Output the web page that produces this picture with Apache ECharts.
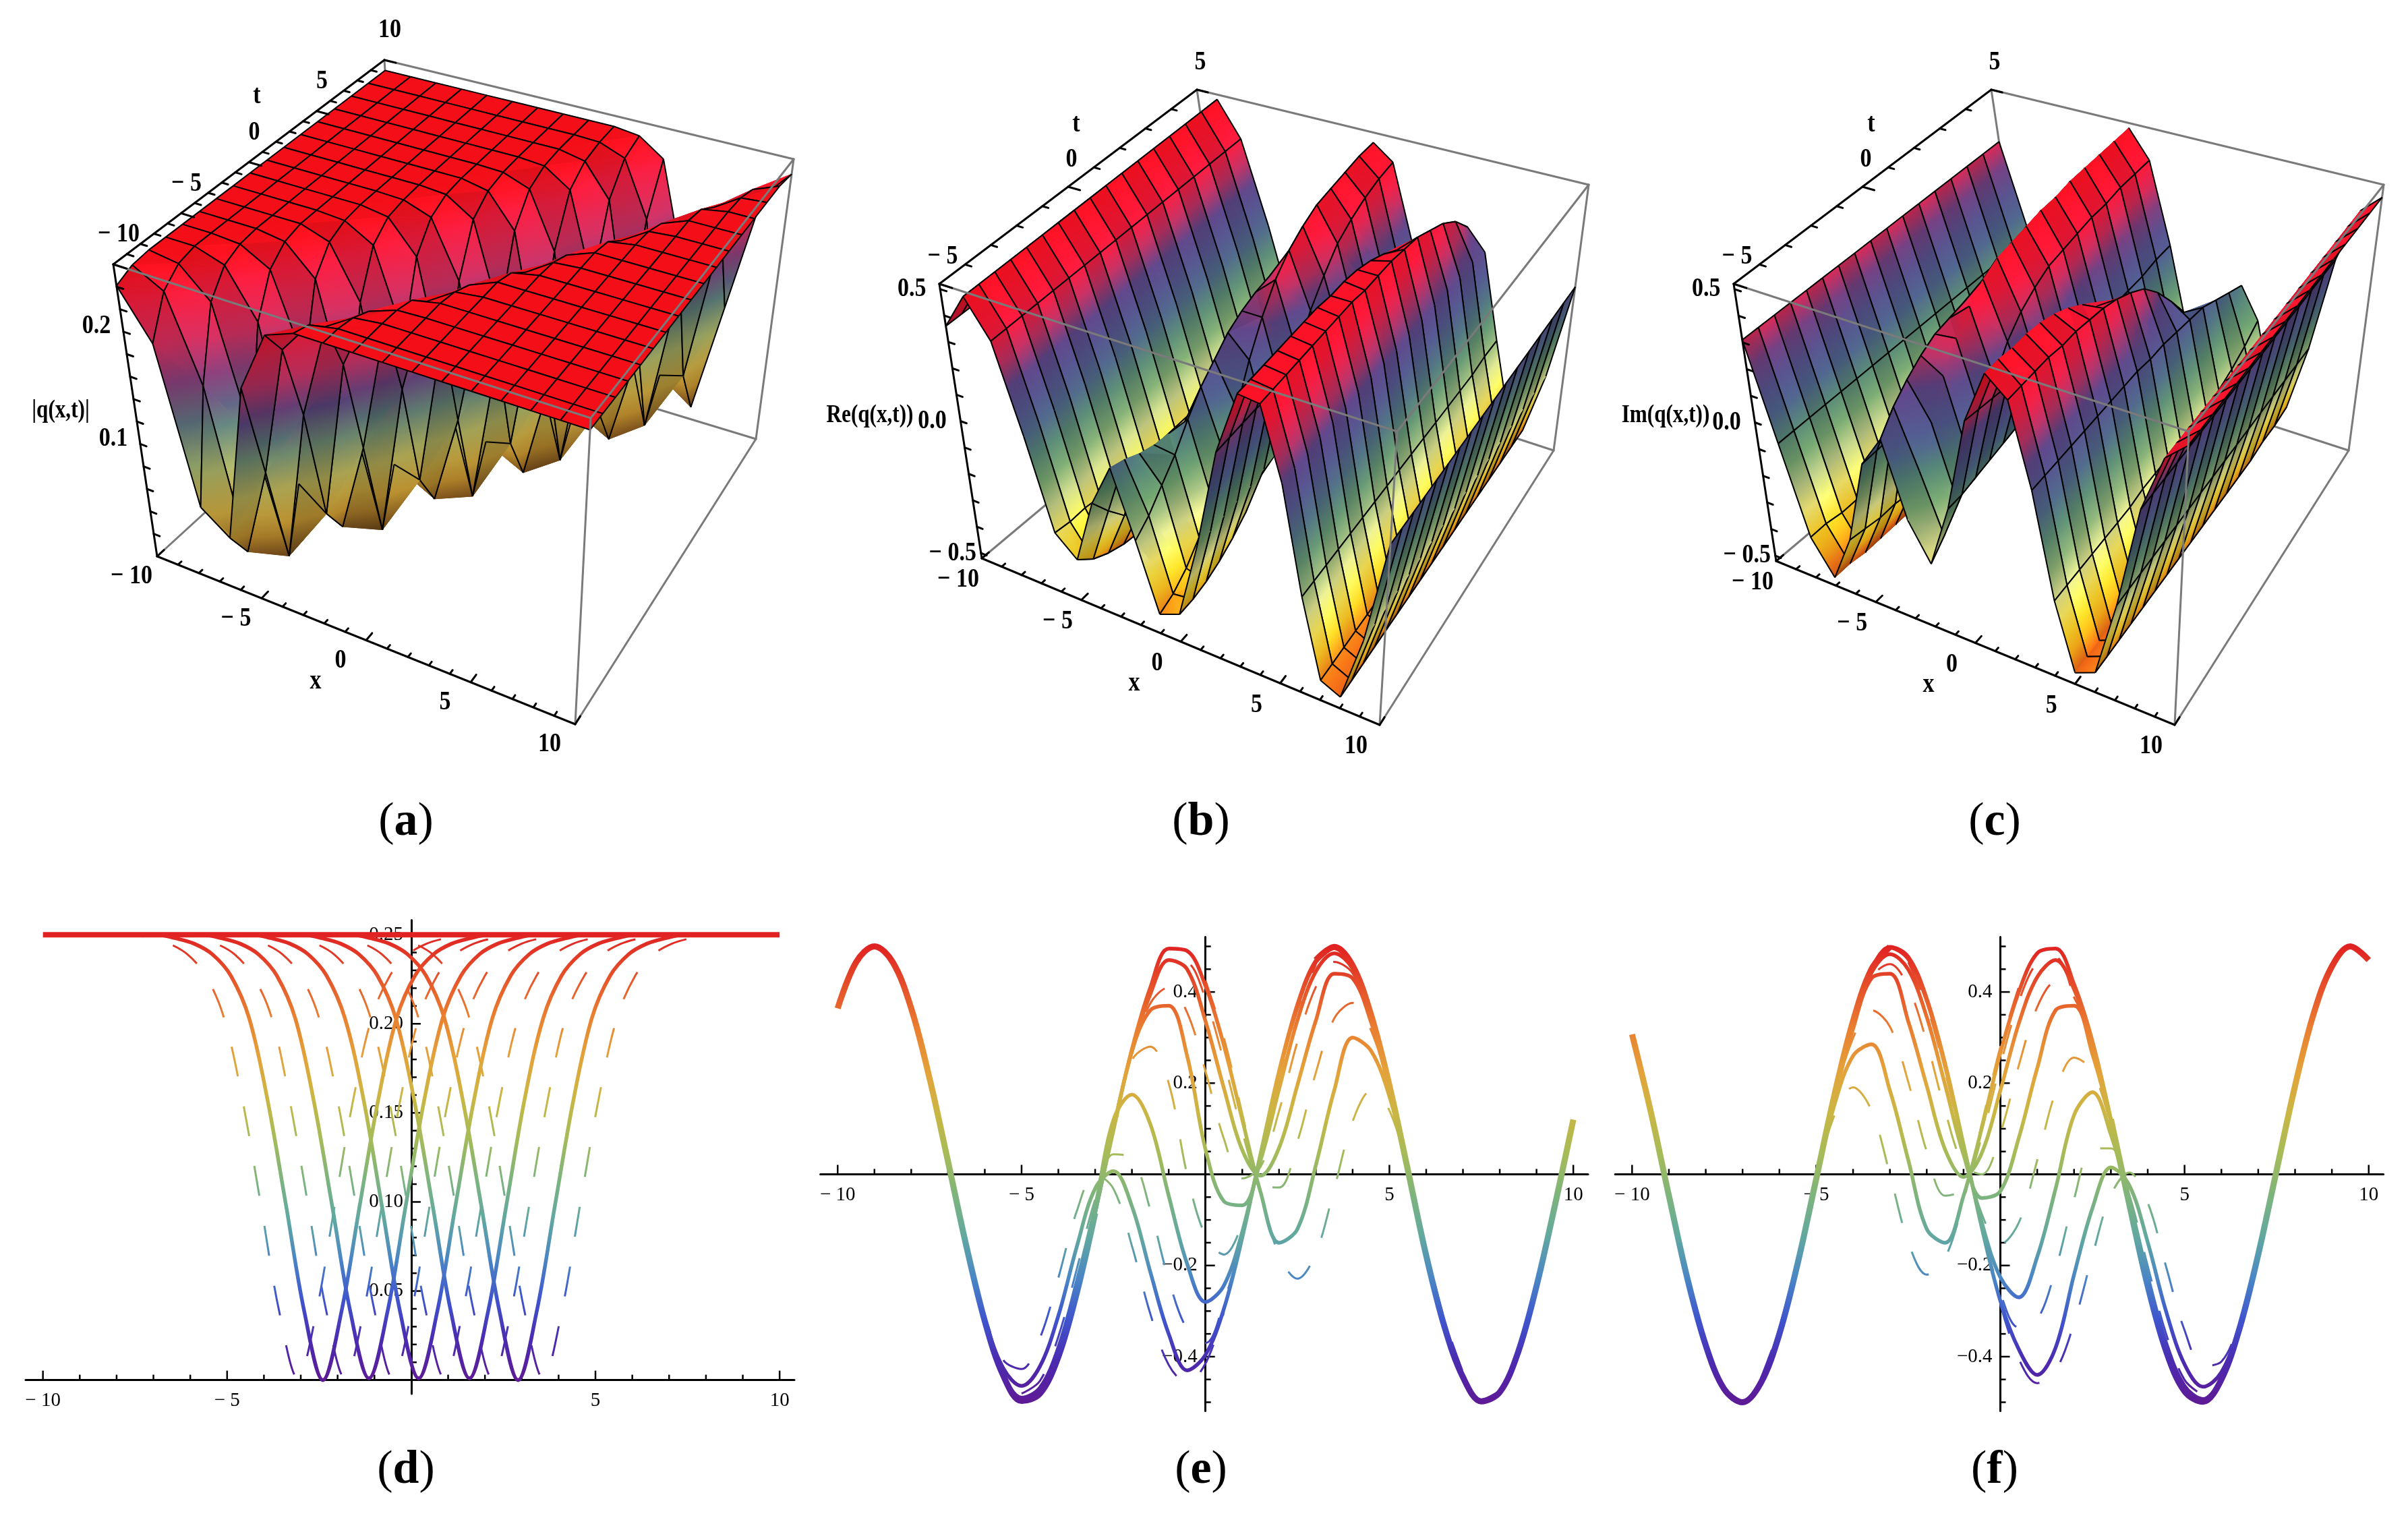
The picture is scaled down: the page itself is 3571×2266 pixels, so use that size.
<!DOCTYPE html>
<html>
<head>
<meta charset="utf-8">
<style>html,body{margin:0;background:#fff}#main{width:3571px;height:2266px}</style>
<script src="https://cdn.jsdelivr.net/npm/echarts@6/dist/echarts.min.js"></script>
</head>
<body>
<div id="main"></div>
<script>
var aX = [-10,-8.75,-7.5,-6.25,-5,-3.75,-2.5,-1.25,0,1.25,2.5,3.75,5,6.25,7.5,8.75,10];
var aT = [-10,-8.75,-7.5,-6.25,-5,-3.75,-2.5,-1.25,0,1.25,2.5,3.75,5,6.25,7.5,8.75,10];
var aZ = [
[.241,.198,.062,.044,.185,.24,.25,.25,.25,.25,.25,.25,.25,.25,.25,.25,.25],
[.248,.233,.157,.019,.098,.215,.245,.25,.25,.25,.25,.25,.25,.25,.25,.25,.25],
[.25,.246,.22,.11,.011,.145,.231,.247,.25,.25,.25,.25,.25,.25,.25,.25,.25],
[.25,.25,.241,.198,.062,.044,.185,.24,.249,.25,.25,.25,.25,.25,.25,.25,.25],
[.25,.25,.248,.233,.157,.019,.098,.215,.245,.25,.25,.25,.25,.25,.25,.25,.25],
[.25,.25,.25,.246,.22,.11,.011,.145,.231,.247,.25,.25,.25,.25,.25,.25,.25],
[.25,.25,.25,.25,.241,.194,.056,.05,.189,.24,.25,.25,.25,.25,.25,.25,.25],
[.25,.25,.25,.25,.248,.233,.157,.019,.098,.215,.245,.25,.25,.25,.25,.25,.25],
[.25,.25,.25,.25,.25,.246,.217,.104,.015,.151,.232,.248,.25,.25,.25,.25,.25],
[.25,.25,.25,.25,.25,.249,.24,.189,.05,.056,.194,.241,.25,.25,.25,.25,.25],
[.25,.25,.25,.25,.25,.25,.248,.232,.151,.015,.104,.217,.246,.25,.25,.25,.25],
[.25,.25,.25,.25,.25,.25,.25,.245,.215,.098,.019,.157,.233,.248,.25,.25,.25],
[.25,.25,.25,.25,.25,.25,.25,.249,.24,.189,.05,.056,.194,.241,.25,.25,.25],
[.25,.25,.25,.25,.25,.25,.25,.25,.248,.232,.151,.015,.104,.217,.246,.25,.25],
[.25,.25,.25,.25,.25,.25,.25,.25,.25,.245,.215,.098,.019,.157,.233,.248,.25],
[.25,.25,.25,.25,.25,.25,.25,.25,.25,.249,.24,.189,.05,.056,.194,.241,.25],
[.25,.25,.25,.25,.25,.25,.25,.25,.25,.25,.247,.231,.145,.011,.11,.22,.246]
];
var bcX = [-10,-9,-8,-7,-6,-5,-4,-3,-2,-1,0,1,2,3,4,5,6,7,8,9,10];
var bcT = [-5,-4.375,-3.75,-3.125,-2.5,-1.875,-1.25,-.625,0,.625,1.25,1.875,2.5,3.125,3.75,4.375,5];
var bZ = [
[.36,.5,.36,.03,-.3,-.37,-.13,.03,-.21,-.45,-.42,-.14,.23,.47,.46,.2,-.18,-.45,-.48,-.25,.12],
[.36,.5,.36,.03,-.31,-.42,-.21,.01,-.17,-.43,-.42,-.14,.23,.47,.46,.2,-.18,-.45,-.48,-.25,.12],
[.36,.5,.36,.03,-.31,-.45,-.28,-.02,-.11,-.39,-.41,-.14,.23,.47,.46,.2,-.18,-.45,-.48,-.25,.12],
[.36,.5,.36,.03,-.32,-.47,-.32,-.04,-.05,-.33,-.39,-.14,.23,.47,.46,.2,-.18,-.45,-.48,-.25,.12],
[.36,.5,.36,.03,-.32,-.48,-.35,-.05,.03,-.24,-.36,-.14,.22,.47,.46,.2,-.18,-.45,-.48,-.25,.12],
[.36,.5,.36,.03,-.32,-.49,-.37,-.07,.1,-.13,-.32,-.13,.22,.47,.46,.2,-.18,-.45,-.48,-.25,.12],
[.36,.5,.36,.03,-.32,-.49,-.38,-.07,.15,-.01,-.25,-.12,.22,.47,.46,.2,-.18,-.45,-.48,-.25,.12],
[.36,.5,.36,.03,-.32,-.49,-.39,-.08,.2,.12,-.16,-.11,.21,.46,.46,.2,-.18,-.45,-.48,-.25,.12],
[.36,.5,.36,.03,-.32,-.5,-.39,-.08,.23,.23,-.06,-.09,.2,.46,.45,.2,-.18,-.45,-.48,-.25,.12],
[.36,.5,.36,.03,-.32,-.5,-.4,-.08,.25,.32,.06,-.07,.19,.45,.45,.19,-.18,-.45,-.48,-.25,.12],
[.36,.5,.36,.03,-.32,-.5,-.4,-.08,.26,.38,.17,-.03,.16,.43,.45,.19,-.18,-.45,-.48,-.25,.12],
[.36,.5,.36,.03,-.32,-.5,-.4,-.08,.27,.42,.25,0,.13,.4,.44,.19,-.18,-.45,-.48,-.25,.12],
[.36,.5,.36,.03,-.32,-.5,-.4,-.09,.27,.45,.32,.04,.08,.36,.43,.19,-.18,-.45,-.48,-.25,.12],
[.36,.5,.36,.03,-.32,-.5,-.4,-.09,.27,.46,.36,.07,.02,.3,.4,.19,-.18,-.45,-.48,-.25,.12],
[.36,.5,.36,.03,-.32,-.5,-.4,-.09,.27,.47,.39,.1,-.04,.2,.37,.18,-.18,-.44,-.48,-.25,.12],
[.36,.5,.36,.03,-.32,-.5,-.4,-.09,.28,.48,.41,.11,-.1,.09,.32,.18,-.17,-.44,-.48,-.25,.12],
[.36,.5,.36,.03,-.32,-.5,-.4,-.09,.28,.48,.42,.13,-.14,-.03,.24,.16,-.17,-.44,-.48,-.25,.12]
];
var cZ = [
[.31,-.05,-.37,-.49,-.32,-.01,.11,-.16,-.29,-.06,.29,.49,.42,.12,-.25,-.48,-.45,-.18,.19,.4,.47],
[.31,-.05,-.37,-.49,-.33,-.01,.18,-.03,-.24,-.06,.28,.49,.42,.12,-.25,-.48,-.45,-.18,.19,.4,.47],
[.31,-.05,-.38,-.5,-.34,-.01,.23,.1,-.16,-.05,.27,.48,.42,.12,-.25,-.48,-.45,-.18,.19,.4,.47],
[.31,-.05,-.38,-.5,-.34,-.01,.27,.22,-.06,-.04,.26,.48,.42,.12,-.25,-.48,-.45,-.18,.19,.4,.47],
[.31,-.05,-.38,-.5,-.35,-.01,.3,.31,.04,-.03,.24,.47,.41,.12,-.25,-.48,-.45,-.18,.19,.4,.47],
[.31,-.05,-.38,-.5,-.35,-.01,.31,.38,.13,-.02,.21,.45,.41,.12,-.25,-.48,-.45,-.18,.19,.4,.47],
[.31,-.05,-.38,-.5,-.35,-.01,.32,.43,.22,0,.17,.42,.4,.12,-.25,-.48,-.45,-.18,.19,.4,.47],
[.31,-.05,-.38,-.5,-.35,-.01,.33,.46,.28,.02,.11,.38,.39,.12,-.24,-.48,-.45,-.18,.19,.4,.47],
[.31,-.05,-.38,-.5,-.35,-.01,.33,.47,.32,.03,.04,.32,.37,.12,-.24,-.48,-.45,-.18,.19,.4,.47],
[.31,-.05,-.38,-.5,-.35,-.01,.34,.48,.35,.04,-.04,.23,.34,.11,-.24,-.48,-.45,-.18,.19,.4,.47],
[.31,-.05,-.38,-.5,-.35,-.01,.34,.49,.36,.05,-.11,.11,.3,.11,-.24,-.48,-.45,-.18,.19,.4,.47],
[.31,-.05,-.38,-.5,-.35,-.01,.34,.49,.37,.06,-.17,-.01,.23,.1,-.23,-.47,-.45,-.18,.19,.4,.47],
[.31,-.05,-.38,-.5,-.35,-.01,.34,.5,.38,.06,-.21,-.14,.14,.09,-.23,-.47,-.45,-.18,.19,.4,.47],
[.31,-.05,-.38,-.5,-.35,-.01,.34,.5,.38,.06,-.24,-.25,.04,.08,-.22,-.46,-.45,-.18,.19,.4,.47],
[.31,-.05,-.38,-.5,-.35,-.01,.34,.5,.39,.06,-.26,-.33,-.07,.05,-.2,-.45,-.44,-.18,.19,.4,.47],
[.31,-.05,-.38,-.5,-.35,-.01,.34,.5,.39,.07,-.27,-.39,-.18,.02,-.17,-.43,-.44,-.18,.19,.4,.47],
[.31,-.05,-.38,-.5,-.35,-.01,.34,.5,.39,.07,-.28,-.43,-.26,-.01,-.13,-.4,-.43,-.18,.19,.4,.47]
];

// ---- panel d: |q| sections, one well per t ----
var wellOffsets = [-5,-4.5,-4,-3.5,-3,-2.5,-2,-1.5,-1,-.5,0,.5,1,1.5,2,2.5,3,3.5,4,4.5,5];
var dTopX = [-10,-5,0,5,10];
var dTopY = [.25,.25,.25,.25,.25];
var dSolidCenters = [-2.4,-1.15,.2,1.58,2.9];
var dSolid = [
[.25,.25,.248,.245,.239,.227,.203,.157,.098,.038,0,.038,.098,.157,.203,.227,.239,.245,.248,.25,.25],
[.25,.25,.248,.245,.239,.227,.203,.157,.098,.038,.001,.038,.098,.157,.203,.227,.239,.245,.248,.25,.25],
[.25,.25,.248,.245,.239,.227,.203,.158,.098,.038,.001,.038,.098,.157,.203,.227,.239,.245,.248,.25,.25],
[.25,.25,.248,.245,.239,.227,.203,.157,.098,.038,.001,.038,.098,.158,.203,.227,.239,.245,.248,.25,.25],
[.25,.25,.248,.245,.239,.227,.203,.157,.098,.038,0,.038,.098,.157,.203,.227,.239,.245,.248,.25,.25]
];
var dDashCenters = [-3.08,-1.8,-.5,.9,2.2,3.58];
var dDash = [
[.25,.25,.248,.245,.239,.227,.203,.157,.098,.038,.001,.038,.098,.157,.203,.227,.239,.245,.248,.25,.25],
[.25,.25,.248,.245,.239,.227,.204,.157,.098,.038,.001,.038,.098,.157,.203,.227,.239,.245,.248,.25,.25],
[.25,.25,.248,.245,.239,.227,.203,.157,.098,.039,.001,.038,.098,.157,.203,.227,.239,.245,.248,.25,.25],
[.25,.25,.248,.245,.239,.227,.203,.157,.098,.038,.001,.039,.098,.157,.203,.227,.239,.245,.248,.25,.25],
[.25,.25,.248,.245,.239,.227,.203,.157,.098,.038,.001,.038,.098,.157,.204,.227,.239,.245,.248,.25,.25],
[.25,.25,.248,.245,.239,.227,.203,.157,.098,.038,.001,.038,.098,.157,.203,.227,.239,.245,.248,.25,.25]
];

// ---- panels e, f: shared x samples ----
var coreX = [-7.5,-7,-6.5,-6,-5.5,-5,-4.5,-4,-3.5,-3,-2.5,-2,-1.5,-1,-.5,0,.5,1,1.5,2,2.5,3,3.5,4,4.5,5,5.5,6,6.5,7,7.5,8];
var mainLeftX = [-10,-9.5,-9,-8.5,-8,-7.5,-7,-6.5,-6,-5.5,-5,-4.5,-4,-3.5,-3];
var mainRightX = [3,3.5,4,4.5,5,5.5,6,6.5,7,7.5,8,8.5,9,9.5,10];
var dashStarts = [-6.5,-5,-4,-2.5,-1.5,0];
var dashOffsets = [0,.5,1,1.5,2,2.5,3,3.5,4,4.5,5,5.5,6,6.5,7];

var eMainLeft = [.364,.465,.5,.465,.364,.21,.028,-.158,-.322,-.441,-.497,-.481,-.4,-.26,-.085];
var eMainRight = [.47,.499,.458,.35,.195,.01,-.178,-.335,-.445,-.498,-.478,-.39,-.245,-.068,.12];
var eSolid = [
[.21,.028,-.156,-.316,-.425,-.464,-.421,-.31,-.159,-.031,.007,-.07,-.214,-.35,-.43,-.396,-.295,-.139,.046,.226,.373,.469,.498,.458,.35,.195,.01,-.178,-.335,-.445,-.498,-.478],
[.21,.028,-.158,-.321,-.438,-.49,-.468,-.38,-.236,-.071,.12,.175,.11,-.047,-.196,-.28,-.244,-.126,.044,.22,.368,.465,.496,.457,.35,.195,.01,-.178,-.335,-.445,-.498,-.478],
[.21,.028,-.158,-.322,-.441,-.496,-.479,-.396,-.256,-.082,.097,.27,.36,.37,.26,.055,-.059,-.068,.032,.187,.338,.445,.485,.451,.347,.194,.01,-.178,-.335,-.445,-.498,-.478],
[.21,.028,-.158,-.322,-.441,-.497,-.481,-.4,-.26,-.085,.102,.271,.395,.47,.45,.336,.189,.053,-.003,.058,.196,.337,.44,.43,.334,.19,.01,-.177,-.333,-.445,-.498,-.478],
[.21,.028,-.158,-.322,-.441,-.497,-.481,-.4,-.26,-.085,.103,.275,.41,.495,.49,.413,.283,.12,-.04,-.15,-.12,.02,.184,.3,.271,.171,.009,-.172,-.329,-.441,-.496,-.477]
];
var eDash = [
[-.155,-.309,-.407,-.427,-.359,-.227,-.081,0,-.032,-.157,-.306,-.418,-.457,-.415,-.303],
[-.481,-.453,-.356,-.208,-.055,.044,.035,-.078,-.231,-.34,-.37,-.28,-.135,.046,.2],
[-.391,-.249,-.078,.088,.25,.28,.2,0,-.135,-.176,-.107,.04,.21,.36,.46],
[.1,.263,.375,.41,.355,.226,.078,-.009,.017,.139,.291,.411,.466,.441,.343],
[.403,.471,.466,.385,.248,.093,-.02,-.029,.072,.223,.342,.376,.316,.185,.01],
[.425,.299,.133,-.041,-.177,-.229,-.173,-.032,.116,.183,.14,.008,-.163,-.319,-.434]
];

var fMainLeft = [.307,.14,-.047,-.228,-.375,-.471,-.5,-.457,-.35,-.194,-.01,.176,.336,.45,.499];
var fMainRight = [.121,-.066,-.245,-.388,-.476,-.499,-.45,-.336,-.176,.009,.194,.351,.456,.5,.47];
var fSolid = [
[-.471,-.498,-.452,-.343,-.187,-.009,.154,.26,.285,.184,.031,-.12,-.15,-.047,.103,.267,.4,.485,.495,.417,.292,.121,-.066,-.245,-.388,-.476,-.499,-.45,-.336,-.176,.009,.194],
[-.471,-.5,-.456,-.349,-.193,-.01,.171,.319,.43,.44,.335,.194,.054,-.006,.048,.184,.331,.433,.47,.406,.287,.12,-.066,-.244,-.388,-.476,-.499,-.45,-.336,-.176,.009,.194],
[-.471,-.5,-.457,-.35,-.194,-.01,.175,.333,.442,.483,.449,.345,.196,.043,-.052,-.037,.08,.233,.36,.37,.263,.115,-.064,-.241,-.385,-.474,-.499,-.45,-.336,-.176,.009,.194],
[-.471,-.5,-.457,-.35,-.194,-.01,.176,.336,.45,.497,.472,.381,.236,.062,-.107,-.226,-.27,-.181,-.031,.13,.18,.087,-.056,-.224,-.37,-.464,-.493,-.447,-.334,-.176,.009,.194],
[-.471,-.5,-.457,-.35,-.194,-.01,.176,.336,.45,.499,.477,.386,.243,.065,-.119,-.278,-.384,-.44,-.38,-.22,-.074,.015,-.024,-.149,-.301,-.417,-.466,-.434,-.33,-.174,.009,.193]
];
var fDash = [
[-.447,-.336,-.179,-.009,.131,.191,.14,0,-.149,-.22,-.183,-.057,.113,.28,.411],
[-.01,.166,.299,.36,.324,.202,.05,-.047,-.031,.084,.24,.379,.465,.477,.38],
[.329,.432,.461,.41,.29,.139,.021,0,.091,.239,.367,.422,.388,.28,.118],
[.465,.37,.224,.056,-.088,-.153,-.106,.031,.181,.256,.226,.106,-.062,-.236,-.381],
[.241,.064,-.115,-.26,-.336,-.319,-.208,-.054,.056,.057,-.045,-.201,-.35,-.451,-.485],
[-.286,-.405,-.458,-.43,-.326,-.178,-.045,.004,-.062,-.203,-.342,-.42,-.411,-.32,-.172]
];

// tick lists
var xMajor = [-10,-5,5,10];
var xMinor = [-9,-8,-7,-6,-4,-3,-2,-1,1,2,3,4,6,7,8,9];
var dYMajor = [.05,.1,.15,.2,.25];
var dYMinor = [.01,.02,.03,.04,.06,.07,.08,.09,.11,.12,.13,.14,.16,.17,.18,.19,.21,.22,.23,.24];
var eYMajor = [-.4,-.2,.2,.4];
var eYMinor = [-.5,-.45,-.35,-.3,-.25,-.15,-.1,-.05,.05,.1,.15,.25,.3,.35,.45,.5];

var rainbow = ['#5e1a96','#4b2bb0','#3f55cc','#4a86c4','#62a8a0','#7eb47c','#a6bb58','#cbb644','#e3a23a','#e97f30','#e5512a','#e02222'];

var rampA = [[0,'#4a2a10'],[.07,'#8a5a20'],[.16,'#c89830'],[.28,'#c0b050'],[.38,'#90a870'],[.48,'#5a7a78'],[.58,'#5c4480'],[.72,'#c03060'],[.88,'#e81c3c'],[.96,'#f40f18'],[1,'#f40f18']];
var rampB = [[0,'#c03c10'],[.05,'#f87018'],[.1,'#ffb818'],[.17,'#ffe030'],[.24,'#f4f090'],[.3,'#b0c080'],[.38,'#6a9a68'],[.47,'#4e7a70'],[.55,'#4a5a88'],[.7,'#5a4080'],[.76,'#b03060'],[.86,'#f01838'],[.98,'#ff1020'],[1,'#ff1020']];

function hex2rgb(h){ return [parseInt(h.substr(1,2),16),parseInt(h.substr(3,2),16),parseInt(h.substr(5,2),16)]; }
function rampColor(ramp,w,f){
	w = Math.max(0,Math.min(1,w));
	var k = 0;
	while (k < ramp.length-2 && ramp[k+1][0] < w) k++;
	var a = hex2rgb(ramp[k][1]), b = hex2rgb(ramp[k+1][1]);
	var s = (w-ramp[k][0])/(ramp[k+1][0]-ramp[k][0]);
	var c = [0,1,2].map(function(n){ return Math.min(255,Math.round((a[n]+(b[n]-a[n])*s)*f)); });
	return 'rgb('+c.join(',')+')';
}

// box corners in page pixels, trilinear stand-in for the perspective camera
function makeProj(p){
	return function(x,t,z){
		var u=(x-p.xr[0])/(p.xr[1]-p.xr[0]), v=(t-p.tr[0])/(p.tr[1]-p.tr[0]), w=(z-p.zr[0])/(p.zr[1]-p.zr[0]);
		function lerp(a,b,s){ return [a[0]+(b[0]-a[0])*s,a[1]+(b[1]-a[1])*s]; }
		var bot = lerp(lerp(p.E,p.F,u),lerp(p.H,p.G,u),v);
		var top = lerp(lerp(p.A,p.D,u),lerp(p.B,p.C,u),v);
		return lerp(bot,top,w);
	};
}

function segSeries(segs,color,width){
	return {
		type:'custom', coordinateSystem:'cartesian2d', xAxisIndex:0, yAxisIndex:0, silent:true, clip:false, progressive:0,
		data:segs,
		renderItem:function(params,api){
			var a = api.coord([api.value(0),api.value(1)]), b = api.coord([api.value(2),api.value(3)]);
			return {type:'line',shape:{x1:a[0],y1:a[1],x2:b[0],y2:b[1]},style:{stroke:color,lineWidth:width,lineCap:'round'}};
		}
	};
}

// one flat-ish triangle, colour runs linearly from its lowest to its highest corner
function triangle(ramp,pts,ws,under,streak){
	var o=[0,1,2].sort(function(a,b){ return ws[a]-ws[b]; });
	var lo=pts[o[0]], mid=pts[o[1]], hi=pts[o[2]], wl=ws[o[0]], wm=ws[o[1]], wh=ws[o[2]];
	var cross=(pts[1][0]-pts[0][0])*(pts[2][1]-pts[0][1])-(pts[1][1]-pts[0][1])*(pts[2][0]-pts[0][0]);
	var f=(cross>0?under:1)*((wh-wl)>.03?streak:1);
	var fill;
	if (wh-wl<.002) fill=rampColor(ramp,wh,f);
	else {
		var s=(wm-wl)/(wh-wl);
		var iso=[lo[0]+(hi[0]-lo[0])*s-mid[0],lo[1]+(hi[1]-lo[1])*s-mid[1]];
		var len=Math.sqrt(iso[0]*iso[0]+iso[1]*iso[1]);
		var gx=hi[0]-lo[0], gy=hi[1]-lo[1];
		if (len>.5){
			var n=[-iso[1]/len,iso[0]/len], d=gx*n[0]+gy*n[1];
			gx=n[0]*d; gy=n[1]*d;
		}
		fill=new echarts.graphic.LinearGradient(lo[0],lo[1],lo[0]+gx+.01,lo[1]+gy+.01,[0,.25,.5,.75,1].map(function(k){
			return {offset:k,color:rampColor(ramp,wl+(wh-wl)*k,f)};
		}),true);
	}
	return {type:'polygon',shape:{points:pts},style:{fill:fill,stroke:fill,lineWidth:1}};
}

function surfaceSeries(p){
	var proj = makeProj(p), cells = [];
	// painter's order, far rows first
	for (var j=p.ts.length-2;j>=0;j--) for (var i=0;i<p.xs.length-1;i++) cells.push([i,j]);
	return {
		type:'custom', coordinateSystem:'cartesian2d', xAxisIndex:0, yAxisIndex:0, silent:true, clip:false, progressive:0,
		data:cells,
		renderItem:function(params,api){
			var i=api.value(0), j=api.value(1);
			function P(a,b){ return api.coord(proj(p.xs[a],p.ts[b],p.rows[b][a])); }
			function W(a,b){ return (p.rows[b][a]-p.zr[0])/(p.zr[1]-p.zr[0]); }
			var p00=P(i,j), p10=P(i+1,j), p11=P(i+1,j+1), p01=P(i,j+1);
			var w00=W(i,j), w10=W(i+1,j), w11=W(i+1,j+1), w01=W(i,j+1);
			var st=j%2?1.09:.93, kids;
			// fold along the diagonal whose ends sit at similar height, keeps the valley floor closed
			if (Math.abs(w00-w11)<=Math.abs(w10-w01)){
				kids=[triangle(p.ramp,[p00,p11,p01],[w00,w11,w01],p.under,st),triangle(p.ramp,[p00,p10,p11],[w00,w10,w11],p.under,st)];
			} else {
				kids=[triangle(p.ramp,[p10,p11,p01],[w10,w11,w01],p.under,st),triangle(p.ramp,[p00,p10,p01],[w00,w10,w01],p.under,st)];
			}
			function mesh(a,b){ kids.push({type:'line',shape:{x1:a[0],y1:a[1],x2:b[0],y2:b[1]},style:{stroke:'#000',lineWidth:p.meshWidth}}); }
			mesh(p00,p10); mesh(p01,p11);
			if (!p.skipX || i%4!==3) mesh(p00,p01);
			if (!p.skipX || (i+1)%4!==3) mesh(p10,p11);
			return {type:'group',children:kids};
		}
	};
}

function textSeries(items){
	return {
		type:'custom', coordinateSystem:'cartesian2d', xAxisIndex:0, yAxisIndex:0, silent:true, clip:false, progressive:0,
		data:items.map(function(it){ return [it.x,it.y]; }),
		renderItem:function(params,api){
			var it=items[params.dataIndex], c=api.coord([api.value(0),api.value(1)]);
			return {type:'text',x:c[0],y:c[1],scaleX:it.sx||.85,style:{text:it.text,fontFamily:'Liberation Serif',fontWeight:'bold',fontSize:it.size||40,fill:'#000',textAlign:'center',textVerticalAlign:'middle'}};
		}
	};
}

function boxSeries(p){
	var proj=makeProj(p), x0=p.xr[0],x1=p.xr[1],t0=p.tr[0],t1=p.tr[1],z0=p.zr[0],z1=p.zr[1];
	function seg(a,b){ return [a[0],a[1],b[0],b[1]]; }
	var back=[seg(p.B,p.C),seg(p.C,p.G),seg(p.G,p.H),seg(p.H,p.B),seg(p.H,p.E)];
	var front=[seg(p.A,p.D),seg(p.D,p.C),seg(p.D,p.F),seg(p.F,p.G)];
	var axes=[seg(p.E,p.F),seg(p.A,p.B),seg(p.A,p.E)];
	var labels=[], k;
	for (k=x0;k<=x1;k+=1){
		var lx=(k%5===0)?.028:.014;
		axes.push(seg(proj(k,t0,z0),proj(k,t0+(t1-t0)*lx,z0)));
	}
	for (k=t0;k<=t1;k+=1){
		var lt=(k%5===0)?.028:.014;
		axes.push(seg(proj(x0,k,z1),proj(x0+(x1-x0)*lt,k,z1)));
	}
	p.zTicks.forEach(function(z){ axes.push(seg(proj(x0,t0,z),proj(x0+(x1-x0)*.014,t0,z))); });
	function label(v){ return v<0?'\u2212 '+(-v):String(v); }
	p.xLabels.forEach(function(v){ var q=proj(v,t0,z0); labels.push({text:label(v),x:q[0]+p.xOff[0],y:q[1]+p.xOff[1]}); });
	p.tLabels.forEach(function(v){ var q=proj(x0,v,z1); labels.push({text:label(v),x:q[0]+p.tOff[0],y:q[1]+p.tOff[1]}); });
	p.zLabels.forEach(function(v,n){
		var q=proj(x0,t0,v), s=p.zText[n];
		labels.push({text:s,x:q[0]+p.zOff[0],y:q[1]+p.zOff[1]});
	});
	p.names.forEach(function(n){ labels.push(n); });
	return [segSeries(back,'#7a7a7a',3),surfaceSeries(p),segSeries(front,'#7a7a7a',3),segSeries(axes,'#000',3),textSeries(labels)];
}

var panelA={xs:aX,ts:aT,rows:aZ,xr:[-10,10],tr:[-10,10],zr:[0,.26],ramp:rampA,under:.86,meshWidth:2,skipX:false,
	A:[168,392],B:[570,89],C:[1177,236],D:[876,620],E:[233,825],F:[853,1074],G:[1121,651],H:[597,492],
	xLabels:[-10,-5,0,5,10],tLabels:[-10,-5,0,5,10],zLabels:[.1,.2],zText:['0.1','0.2'],zTicks:[.02,.04,.06,.08,.1,.12,.14,.16,.18,.2,.22,.24],
	xOff:[-38,30],tOff:[8,-44],zOff:[-40,-8],
	names:[{text:'t',x:381,y:143},{text:'x',x:468,y:1011},{text:'|q(x,t)|',x:90,y:609,size:38,sx:.82}]};
var panelB={xs:bcX,ts:bcT,rows:bZ,xr:[-10,10],tr:[-5,5],zr:[-.52,.52],ramp:rampB,under:.8,meshWidth:2,skipX:true,
	A:[1393,421],B:[1775,133],C:[2356,274],D:[2072,640],E:[1456,828],F:[2046,1075],G:[2304,668],H:[1831,514],
	xLabels:[-10,-5,0,5,10],tLabels:[-5,0,5],zLabels:[-.5,0,.5],zText:['\u2212 0.5','0.0','0.5'],zTicks:[-.5,-.4,-.3,-.2,-.1,0,.1,.2,.3,.4,.5],
	xOff:[-35,32],tOff:[5,-40],zOff:[-42,0],
	names:[{text:'t',x:1596,y:185},{text:'x',x:1682,y:1014},{text:'Re(q(x,t))',x:1290,y:616,size:38,sx:.82}]};
var panelC={xs:bcX,ts:bcT,rows:cZ,xr:[-10,10],tr:[-5,5],zr:[-.52,.52],ramp:rampB,under:.8,meshWidth:2,skipX:true,
	A:[2571,421],B:[2953,133],C:[3535,274],D:[3246,640],E:[2634,832],F:[3225,1075],G:[3483,668],H:[3010,515],
	xLabels:[-10,-5,0,5,10],tLabels:[-5,0,5],zLabels:[-.5,0,.5],zText:['\u2212 0.5','0.0','0.5'],zTicks:[-.5,-.4,-.3,-.2,-.1,0,.1,.2,.3,.4,.5],
	xOff:[-35,32],tOff:[5,-40],zOff:[-42,0],
	names:[{text:'t',x:2775,y:185},{text:'x',x:2860,y:1016},{text:'Im(q(x,t))',x:2470,y:616,size:38,sx:.82}]};

var grids=[{left:0,top:0,width:3571,height:2266,outerBoundsMode:'none'}];
var xAxes=[{gridIndex:0,type:'value',min:0,max:3571,show:false}];
var yAxes=[{gridIndex:0,type:'value',min:0,max:2266,inverse:true,show:false}];
var series=[].concat(boxSeries(panelA),boxSeries(panelB),boxSeries(panelC));
var visualMaps=[];

function addPlane(o){
	var g=grids.length, xi=xAxes.length, yi=yAxes.length;
	var line={show:true,onZero:false,lineStyle:{color:'#000',width:3}};
	// axes cross inside the plot, so push them in from the grid edge
	var xOffset=-(o.height*(0-o.yr[0])/(o.yr[1]-o.yr[0]));
	var yOffset=-(o.width*(0-o.xr[0])/(o.xr[1]-o.xr[0]));
	grids.push({left:o.left,top:o.top,width:o.width,height:o.height,outerBoundsMode:'none'});
	xAxes.push({gridIndex:g,type:'value',position:'bottom',offset:xOffset,min:o.xr[0],max:o.xr[1],splitLine:{show:false},axisLine:line,axisTick:{show:false},
		axisLabel:{margin:16,customValues:xMajor,formatter:function(v){ return v<0?'\u2212 '+(-v):String(v); },color:'#000',fontFamily:'Liberation Serif',fontSize:29}});
	yAxes.push({gridIndex:g,type:'value',position:'left',offset:yOffset,min:o.yr[0],max:o.yr[1],splitLine:{show:false},axisLine:line,axisTick:{show:false},
		axisLabel:{margin:12,customValues:o.yMajor,formatter:function(v){ return (v<0?'\u2212':'')+Math.abs(v).toFixed(o.dec); },color:'#000',fontFamily:'Liberation Serif',fontSize:29}});
	// ticks point into the plot: long on labelled values, short between
	var ticks=[];
	xMajor.forEach(function(v){ ticks.push([v,0,0,-14]); });
	xMinor.forEach(function(v){ ticks.push([v,0,0,-8]); });
	o.yMajor.forEach(function(v){ ticks.push([0,v,14,0]); });
	o.yMinor.forEach(function(v){ ticks.push([0,v,8,0]); });
	series.push({type:'custom',coordinateSystem:'cartesian2d',xAxisIndex:xi,yAxisIndex:yi,silent:true,clip:false,progressive:0,data:ticks,
		renderItem:function(params,api){
			var c=api.coord([api.value(0),api.value(1)]);
			return {type:'line',shape:{x1:c[0],y1:c[1],x2:c[0]+api.value(2),y2:c[1]+api.value(3)},style:{stroke:'#000',lineWidth:2.5}};
		}});
	var first=series.length;
	o.curves.forEach(function(c){
		series.push({type:'line',xAxisIndex:xi,yAxisIndex:yi,symbol:'none',smooth:.35,clip:false,silent:true,
			data:c.x.map(function(v,n){ return [v,c.y[n]]; }),
			lineStyle:{width:c.w,type:c.dash||'solid',cap:'butt'}});
	});
	var idx=[]; for (var k=first;k<series.length;k++) idx.push(k);
	visualMaps.push({type:'continuous',show:false,seriesIndex:idx,dimension:1,min:o.cr[0],max:o.cr[1],inRange:{color:rainbow}});
}

function shifted(center,offs){ return offs.map(function(v){ return center+v; }); }
function dashX(start){ return shifted(start,dashOffsets); }

var dCurves=[{x:dTopX,y:dTopY,w:8}];
dDash.forEach(function(y,i){ dCurves.push({x:shifted(dDashCenters[i],wellOffsets),y:y,w:3,dash:[45,45]}); });
dSolid.forEach(function(y,i){ dCurves.push({x:shifted(dSolidCenters[i],wellOffsets),y:y,w:5.5}); });

function waveCurves(mainL,mainR,solid,dash){
	var out=[{x:mainLeftX,y:mainL,w:9},{x:mainRightX,y:mainR,w:9}];
	dash.forEach(function(y,i){ out.push({x:dashX(dashStarts[i]),y:y,w:3,dash:[45,45]}); });
	solid.forEach(function(y){ out.push({x:coreX,y:y,w:5.5}); });
	return out;
}

addPlane({left:38,top:1364.5,width:1140,height:702.5,xr:[-10.47,10.4],yr:[-.0077,.2582],yMajor:dYMajor,yMinor:dYMinor,dec:2,cr:[0,.25],curves:dCurves});
addPlane({left:1216.6,top:1389.5,width:1138.4,height:703,xr:[-10.47,10.4],yr:[-.5192,.5207],yMajor:eYMajor,yMinor:eYMinor,dec:1,cr:[-.5,.5],curves:waveCurves(eMainLeft,eMainRight,eSolid,eDash)});
addPlane({left:2395.2,top:1389.5,width:1139.4,height:703,xr:[-10.46,10.4],yr:[-.5192,.5207],yMajor:eYMajor,yMinor:eYMinor,dec:1,cr:[-.5,.5],curves:waveCurves(fMainLeft,fMainRight,fSolid,fDash)});

function caption(letter,cx,top){
	return {text:'{r|(}{b|'+letter+'}{r|)}',left:cx,top:top,textAlign:'center',
		textStyle:{rich:{r:{fontFamily:'Liberation Serif',fontSize:70,fontWeight:'normal',color:'#000'},b:{fontFamily:'Liberation Serif',fontSize:70,fontWeight:'bold',color:'#000'}}}};
}

var chart=echarts.init(document.getElementById('main'));
chart.setOption({
	animation:false,
	backgroundColor:'#fff',
	title:[caption('a',597,1180),caption('b',1776,1180),caption('c',2953,1180),caption('d',597,2141),caption('e',1776,2141),caption('f',2953,2141)],
	grid:grids,
	xAxis:xAxes,
	yAxis:yAxes,
	visualMap:visualMaps,
	series:series
});
</script>
</body>
</html>
